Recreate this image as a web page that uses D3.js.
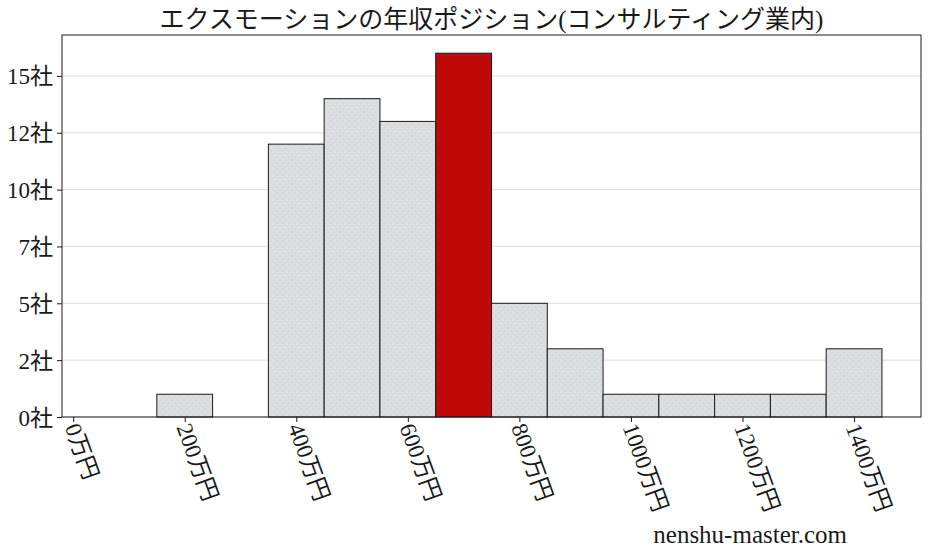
<!DOCTYPE html>
<html>
<head>
<meta charset="utf-8">
<script src="https://cdn.jsdelivr.net/npm/d3@7"></script>
<style>
  body { margin: 0; background: #fff; }
  svg { display: block; }
  text { font-family: "Liberation Serif", "Noto Sans CJK JP", serif; fill: #1a1a1a; }
</style>
</head>
<body>
<svg id="chart" width="928" height="557"></svg>
<script>
const title = 'エクスモーションの年収ポジション(コンサルティング業内)';
const watermark = 'nenshu-master.com';

// histogram bins (center, 万円) and company counts
const binCenters = [200, 400, 500, 600, 700, 800, 900, 1000, 1100, 1200, 1300, 1400];
const counts = [1, 12, 14, 13, 16, 5, 3, 1, 1, 1, 1, 3];
const binWidth = 100;
const highlightBin = 700;

const xTicks = [0, 200, 400, 600, 800, 1000, 1200, 1400];
const yTicks = [0, 2.5, 5, 7.5, 10, 12.5, 15];

const width = 928, height = 557;
const margin = {top: 35, right: 7, bottom: 140, left: 62};

const svg = d3.select('#chart');

const x = d3.scaleLinear()
  .domain([-20, 1520])
  .range([margin.left, width - margin.right]);

const y = d3.scaleLinear()
  .domain([0, 16.8])
  .range([height - margin.bottom, margin.top]);

// dotted hatch
const defs = svg.append('defs');
const pat = defs.append('pattern')
  .attr('id', 'dots')
  .attr('patternUnits', 'userSpaceOnUse')
  .attr('width', 6)
  .attr('height', 6);
pat.append('rect').attr('width', 6).attr('height', 6).attr('fill', '#dddee0');
pat.append('circle').attr('cx', 1).attr('cy', 1).attr('r', 0.5).attr('fill', '#c0c1c4');
pat.append('circle').attr('cx', 4).attr('cy', 4).attr('r', 0.5).attr('fill', '#c0c1c4');

// grid
svg.append('g')
  .selectAll('line')
  .data(yTicks)
  .join('line')
  .attr('x1', margin.left)
  .attr('x2', width - margin.right)
  .attr('y1', d => y(d))
  .attr('y2', d => y(d))
  .attr('stroke', '#dddddd')
  .attr('stroke-width', 1);

// bars
svg.append('g')
  .selectAll('rect')
  .data(binCenters)
  .join('rect')
  .attr('x', d => x(d - binWidth / 2))
  .attr('width', d => x(d + binWidth / 2) - x(d - binWidth / 2))
  .attr('y', (d, i) => y(counts[i]))
  .attr('height', (d, i) => y(0) - y(counts[i]))
  .attr('fill', d => d === highlightBin ? '#c00a0a' : 'url(#dots)')
  .attr('stroke', '#1a1a1a')
  .attr('stroke-width', 1);

// y axis
const yAxis = svg.append('g')
  .attr('transform', `translate(${margin.left},0)`)
  .call(d3.axisLeft(y).tickValues(yTicks).tickSize(5).tickPadding(4)
    .tickFormat(d => Math.floor(d) + '社'));
yAxis.select('.domain').remove();
yAxis.selectAll('.tick line').attr('stroke', '#1a1a1a');
yAxis.selectAll('.tick text')
  .attr('font-size', 23)
  .attr('dy', '0.35em')
  .style('font-family', '"Liberation Serif", "Noto Sans CJK JP", serif');

// x axis
const xAxis = svg.append('g')
  .attr('transform', `translate(0,${height - margin.bottom})`)
  .call(d3.axisBottom(x).tickValues(xTicks).tickSize(5).tickFormat(d => d + '万円'));
xAxis.select('.domain').remove();
xAxis.selectAll('.tick line').attr('stroke', '#1a1a1a');
xAxis.selectAll('.tick text')
  .attr('font-size', 23)
  .attr('text-anchor', 'start')
  .attr('x', 0)
  .attr('y', 0)
  .attr('dy', 0)
  .attr('transform', 'translate(-9,10) rotate(70)')
  .style('font-family', '"Liberation Serif", "Noto Sans CJK JP", serif');

// frame
svg.append('rect')
  .attr('x', margin.left)
  .attr('y', margin.top)
  .attr('width', width - margin.left - margin.right)
  .attr('height', height - margin.top - margin.bottom)
  .attr('fill', 'none')
  .attr('stroke', '#1a1a1a')
  .attr('stroke-width', 1);

// title
svg.append('text')
  .attr('x', (margin.left + width - margin.right) / 2)
  .attr('y', 28)
  .attr('text-anchor', 'middle')
  .attr('font-size', 25)
  .text(title);

// watermark
svg.append('text')
  .attr('x', 847)
  .attr('y', 543)
  .attr('text-anchor', 'end')
  .attr('font-size', 25)
  .text(watermark);
</script>
</body>
</html>
